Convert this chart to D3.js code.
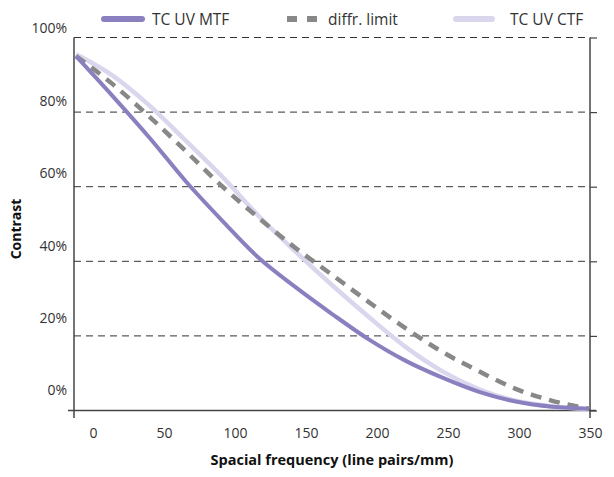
<!DOCTYPE html>
<html>
<head>
<meta charset="utf-8">
<script src="https://cdn.jsdelivr.net/npm/d3@7"></script>
<style>
  body { margin: 0; background: #fff; }
  text { font-family: "Open Sans", "Noto Sans", sans-serif; }
</style>
</head>
<body>
<div id="chart"></div>
<script>
// data
const freq = [0, 25, 50, 75, 100, 125, 150, 175, 200, 225, 250, 275, 300, 325, 350];
const mtf  = [95, 84.3, 73.2, 61.4, 50.8, 40.8, 33, 25.8, 19, 13.3, 8.8, 5, 2.4, 1, 0.5];
const diff = [95, 87.5, 78.8, 69.5, 60, 51.5, 43.5, 36.3, 29, 22, 15.7, 10.5, 5.8, 2.6, 0.5];
const ctf  = [95.5, 89.8, 81.8, 72.3, 62.6, 52, 42.5, 33.5, 25, 17, 10.5, 5.7, 2.6, 1.1, 0.4];
const xTicks = [0, 50, 100, 150, 200, 250, 300, 350];
const yTicks = [0, 20, 40, 60, 80, 100];
const legendNames = ["TC UV MTF", "diffr. limit", "TC UV CTF"];

const W = 614, H = 477;
const plotL = 74, plotR = 590, plotT = 37.5, plotB = 410.5;

const svg = d3.select("#chart").append("svg")
    .attr("width", W)
    .attr("height", H);

const x = d3.scaleLinear().domain([0, 350]).range([76, 589]);
const y = d3.scaleLinear().domain([0, 100]).range([plotB, plotT]);
// tick labels sit a bit off the lines in the original
const xLab = d3.scaleLinear().domain([0, 350]).range([93, 590]);
const yLab = d3.scaleLinear().domain([0, 100]).range([390.5, 28.3]);

// dashed grid lines
svg.append("g")
  .selectAll("line")
  .data(yTicks.filter(d => d > 0))
  .join("line")
    .attr("x1", plotL).attr("x2", plotR)
    .attr("y1", d => y(d)).attr("y2", d => y(d))
    .attr("stroke", "#333")
    .attr("stroke-width", 1)
    .attr("stroke-dasharray", "7,5");

// right axis ticks
svg.append("g")
    .attr("transform", `translate(${plotR},0)`)
    .call(d3.axisRight(y).tickValues(yTicks).tickSize(7).tickFormat(""))
    .call(g => g.select(".domain").remove())
    .call(g => g.selectAll("line").attr("stroke", "#444").attr("stroke-width", 1.2));

// frame lines
const axisColor = "#444";
svg.append("line").attr("x1", plotL).attr("x2", plotL).attr("y1", plotT).attr("y2", 418)
    .attr("stroke", axisColor).attr("stroke-width", 1.5);
svg.append("line").attr("x1", plotR).attr("x2", plotR).attr("y1", plotT).attr("y2", 418)
    .attr("stroke", axisColor).attr("stroke-width", 1.5);
svg.append("line").attr("x1", 68).attr("x2", 596).attr("y1", plotB).attr("y2", plotB)
    .attr("stroke", axisColor).attr("stroke-width", 1.5);

// tick labels
svg.append("g")
    .attr("transform", "translate(0,433)")
    .call(d3.axisBottom(xLab).tickValues(xTicks).tickSize(0).tickPadding(0))
    .call(g => g.select(".domain").remove())
    .call(g => g.selectAll("text")
        .attr("dy", "0.35em")
        .attr("font-size", 14)
        .attr("font-family", "Open Sans")
        .attr("fill", "#333"));

svg.append("g")
    .attr("transform", "translate(67,0)")
    .call(d3.axisLeft(yLab).tickValues(yTicks).tickSize(0).tickPadding(0).tickFormat(d => d + "%"))
    .call(g => g.select(".domain").remove())
    .call(g => g.selectAll("text")
        .attr("font-size", 14)
        .attr("font-family", "Open Sans")
        .attr("fill", "#333"));

// curves
const line = d3.line()
    .x((d, i) => x(freq[i]))
    .y(d => y(d))
    .curve(d3.curveMonotoneX);

const series = [
  { name: legendNames[2], vals: ctf,  color: "#dad6ee", width: 4.5, dash: null },
  { name: legendNames[1], vals: diff, color: "#888888", width: 4.5, dash: "11,8" },
  { name: legendNames[0], vals: mtf,  color: "#8a80c0", width: 4,   dash: null }
];

svg.append("g")
  .selectAll("path")
  .data(series)
  .join("path")
    .attr("d", d => line(d.vals))
    .attr("fill", "none")
    .attr("stroke", d => d.color)
    .attr("stroke-width", d => d.width)
    .attr("stroke-dasharray", d => d.dash);

// legend
const legend = [
  { x1: 104, x2: 142, tx: 152, s: series[2] },
  { x1: 287, x2: 317, tx: 328, s: series[1] },
  { x1: 456, x2: 492, tx: 510, s: series[0] }
];
const lg = svg.append("g");
lg.selectAll("line")
  .data(legend)
  .join("line")
    .attr("x1", d => d.x1).attr("x2", d => d.x2)
    .attr("y1", 19).attr("y2", 19)
    .attr("stroke", d => d.s.color)
    .attr("stroke-width", 6)
    .attr("stroke-linecap", d => d.s.dash ? "butt" : "round")
    .attr("stroke-dasharray", d => d.s.dash ? "10,10" : null);
lg.selectAll("text")
  .data(legend)
  .join("text")
    .attr("x", d => d.tx)
    .attr("y", 20)
    .attr("dy", "0.35em")
    .attr("font-size", 15.5)
    .attr("fill", "#333")
    .text(d => d.s.name);

// axis titles
svg.append("text")
    .attr("x", 332)
    .attr("y", 465)
    .attr("text-anchor", "middle")
    .attr("font-size", 14.5)
    .attr("font-weight", "bold")
    .attr("fill", "#111")
    .text("Spacial frequency (line pairs/mm)");

svg.append("text")
    .attr("transform", "translate(21,229) rotate(-90)")
    .attr("text-anchor", "middle")
    .attr("font-size", 14)
    .attr("font-weight", "bold")
    .attr("fill", "#111")
    .text("Contrast");
</script>
</body>
</html>
